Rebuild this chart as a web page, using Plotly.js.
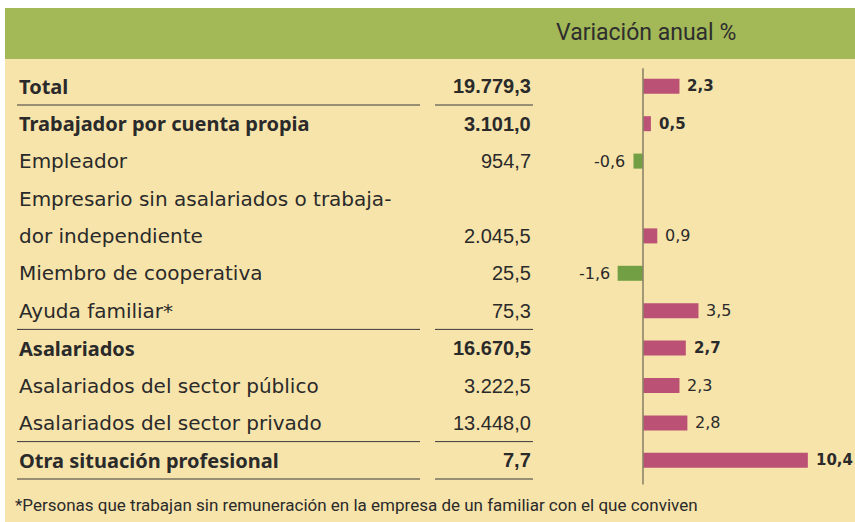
<!DOCTYPE html>
<html><head><meta charset="utf-8">
<script src="https://cdn.plot.ly/plotly-3.0.1.min.js"></script>
<style>html,body{margin:0;padding:0;background:#fff}</style>
</head><body><div id="chart" style="width:855px;height:522px"></div>
<script>
// ---- data ----
const categories = ["Total","Trabajador por cuenta propia","Empleador","Empresario sin asalariados o trabaja-|dor independiente","Miembro de cooperativa","Ayuda familiar*","Asalariados","Asalariados del sector público","Asalariados del sector privado","Otra situación profesional"];
const miles = [19779.3, 3101.0, 954.7, 2045.5, 25.5, 75.3, 16670.5, 3222.5, 13448.0, 7.7];
const variacion = [2.3, 0.5, -0.6, 0.9, -1.6, 3.5, 2.7, 2.3, 2.8, 10.4];
const bold = [true, true, false, false, false, false, true, false, false, true];
const headerText = "Variación anual %";
const footnote = "*Personas que trabajan sin remuneración en la empresa de un familiar con el que conviven";

// ---- helpers ----
function fmt(v){
  const s = Math.abs(v).toFixed(1).split('.');
  const g = s[0].replace(/\B(?=(\d{3})+(?!\d))/g, '.');
  return (v < 0 ? '-' : '') + g + ',' + s[1];
}
const W = 855, H = 522;
const px = x => x / W;
const LBL = "DejaVu Sans, sans-serif";
const LBL_B = "Noto Sans, sans-serif";
const NUM = "Liberation Sans, Arial, sans-serif";
const VAL = "DejaVu Sans, sans-serif";
const TXT = "#2a2a2a";
const PINK = "#bb5174", GREEN = "#729f43";

const barRow = [], annotations = [];
let line = 0;
categories.forEach((c, i) => {
  const parts = c.split('|');
  parts.forEach((p, j) => {
    annotations.push({xref:'paper', yref:'y', x:px(17), y:line,
      text: bold[i] ? '<b>'+p+'</b>' : p,
      xanchor:'left', yanchor:'middle', showarrow:false,
      font:{family: bold[i] ? LBL_B : LBL, size:20, color:TXT}});
    if (j < parts.length - 1) line++;
  });
  barRow.push(line);
  annotations.push({xref:'paper', yref:'y', x:px(533), y:line,
    text: bold[i] ? '<b>'+fmt(miles[i])+'</b>' : fmt(miles[i]),
    xanchor:'right', yanchor:'middle', showarrow:false, font:{family:NUM, size:20, color:TXT}});
  const v = variacion[i];
  annotations.push({xref:'x', yref:'y', x:v, y:line,
    text: bold[i] ? '<b>'+fmt(v)+'</b>' : fmt(v),
    xanchor: v >= 0 ? 'left' : 'right', xshift: v >= 0 ? 6 : -6, yanchor:'middle', showarrow:false,
    font:{family:VAL, size: bold[i] ? 15 : 16, color:TXT}});
  line++;
});
const nLines = line;

annotations.push({xref:'paper', yref:'paper', x:px(646), y:1 - 33/H, text:headerText, xanchor:'center', yanchor:'middle',
  showarrow:false, font:{family:"Roboto, sans-serif", size:23, color:"#2e2e2e"}});
annotations.push({xref:'paper', yref:'paper', x:px(13), y:1 - 505/H, text:footnote, xanchor:'left', yanchor:'middle',
  showarrow:false, font:{family:"Roboto, sans-serif", size:17, color:TXT}});

// axis mapping: row v -> pixel 86.3 + 37.4 v ; value -> 643 + 15.85 x
const rowH = 37.4, row0 = 86.3, zeroPx = 643, unit = 15.85;
const yr = [(H - row0)/rowH, -row0/rowH];
const xr = [-zeroPx/unit, (W - zeroPx)/unit];

const shapes = [
  {type:'rect', xref:'paper', yref:'paper', x0:px(5), x1:1, y0:1-59/H, y1:1-8/H, fillcolor:'#a3b857', line:{width:0}, layer:'below'},
  {type:'rect', xref:'paper', yref:'paper', x0:px(5), x1:1, y0:0, y1:1-59/H, fillcolor:'#f7e4ab', line:{width:0}, layer:'below'},
  {type:'line', xref:'x', yref:'y', x0:0, x1:0, y0:-0.48, y1:nLines - 0.35, line:{color:'#8c8468', width:1.6}}
];
[0.5, 6.5, 9.5, 10.5].forEach(v => {
  shapes.push({type:'line', xref:'paper', yref:'y', x0:px(17), x1:px(420), y0:v, y1:v, line:{color:'#3a3a3a', width:1}});
  shapes.push({type:'line', xref:'paper', yref:'y', x0:px(435), x1:px(533), y0:v, y1:v, line:{color:'#3a3a3a', width:1}});
});

const trace = {
  type:'bar', orientation:'h', x: variacion, y: barRow, width: 15/rowH,
  marker:{color: variacion.map(v => v >= 0 ? PINK : GREEN), line:{width:0}},
  hoverinfo:'none'
};

Plotly.newPlot('chart', [trace], {
  width:W, height:H, margin:{l:0,r:0,t:0,b:0},
  paper_bgcolor:'#ffffff', plot_bgcolor:'rgba(0,0,0,0)',
  xaxis:{range:xr, visible:false, fixedrange:true},
  yaxis:{range:yr, visible:false, fixedrange:true},
  showlegend:false, shapes:shapes, annotations:annotations
}, {displayModeBar:false, staticPlot:true});
</script></body></html>
